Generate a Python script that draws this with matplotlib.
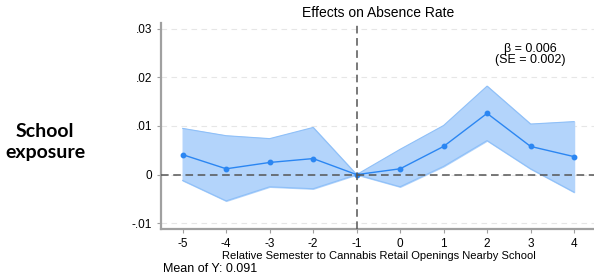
import numpy as np
import matplotlib.pyplot as plt

plt.rcParams['font.family'] = ['Liberation Sans', 'DejaVu Sans']

# event-study estimates
periods = [-5, -4, -3, -2, -1, 0, 1, 2, 3, 4]
coef = [0.0041, 0.0012, 0.0025, 0.0033, 0.0, 0.0012, 0.0058, 0.0126, 0.0058, 0.0037]
ci_low = [-0.0012, -0.0054, -0.0025, -0.0029, 0.0, -0.0025, 0.0017, 0.0070, 0.0012, -0.0036]
ci_high = [0.0095, 0.0080, 0.0074, 0.0097, 0.0, 0.0052, 0.0101, 0.0182, 0.0104, 0.0109]
yticks = [-0.01, 0, 0.01, 0.02, 0.03]
ytick_labels = ["-.01", "0", ".01", ".02", ".03"]

line_color = "#2b86f2"
fill_color = "#b3d4fb"
spine_color = "#a0a0a0"

fig = plt.figure(figsize=(5.94, 2.76), dpi=100)
ax = fig.add_axes([0.271, 0.170, 0.732, 0.747])

ax.fill_between(periods, ci_low, ci_high, color=fill_color, zorder=2)
ax.plot(periods, ci_low, color="#8fc0f8", lw=0.8, zorder=2)
ax.plot(periods, ci_high, color="#8fc0f8", lw=0.8, zorder=2)
ax.plot(periods, coef, color=line_color, lw=1.0, marker="o", ms=3.2, zorder=3)

# grid and reference lines
for yv in yticks:
    ax.axhline(yv, color="#e6e6e6", lw=0.8, ls=(0, (5, 4)), zorder=1)
ax.axhline(0, color="#555555", lw=1.1, ls=(0, (5, 3)), zorder=4)
ax.axvline(-1, color="#555555", lw=1.1, ls=(0, (5, 3)), zorder=4)

ax.set_xlim(-5.5, 4.5)
ax.set_ylim(-0.0112, 0.0312)
ax.set_xticks(periods)
ax.set_xticklabels([str(p) for p in periods], fontsize=8.5)
ax.set_yticks(yticks)
ax.set_yticklabels(ytick_labels, fontsize=8.5)
ax.tick_params(length=3, width=0.8, color=spine_color, labelcolor="black")

for s in ["top", "right"]:
    ax.spines[s].set_visible(False)
for s in ["left", "bottom"]:
    ax.spines[s].set_color(spine_color)
    ax.spines[s].set_linewidth(1.6)

ax.set_title("Effects on Absence Rate", fontsize=10, pad=4)
ax.set_xlabel("Relative Semester to Cannabis Retail Openings Nearby School", fontsize=8, labelpad=1)
ax.text(3, 0.0247, "β = 0.006\n(SE = 0.002)", ha="center", va="center",
        fontsize=9, linespacing=0.95)

fig.text(163 / 594, 1 - 269 / 276, "Mean of Y: 0.091", fontsize=9, va="center", ha="left")
fig.text(45 / 594, 1 - 142 / 276, "School\nexposure", fontsize=14, fontweight="bold",
         ha="center", va="center", linespacing=1.25, family=["Lato", "DejaVu Sans"])

fig.savefig("out.png", dpi=100)
